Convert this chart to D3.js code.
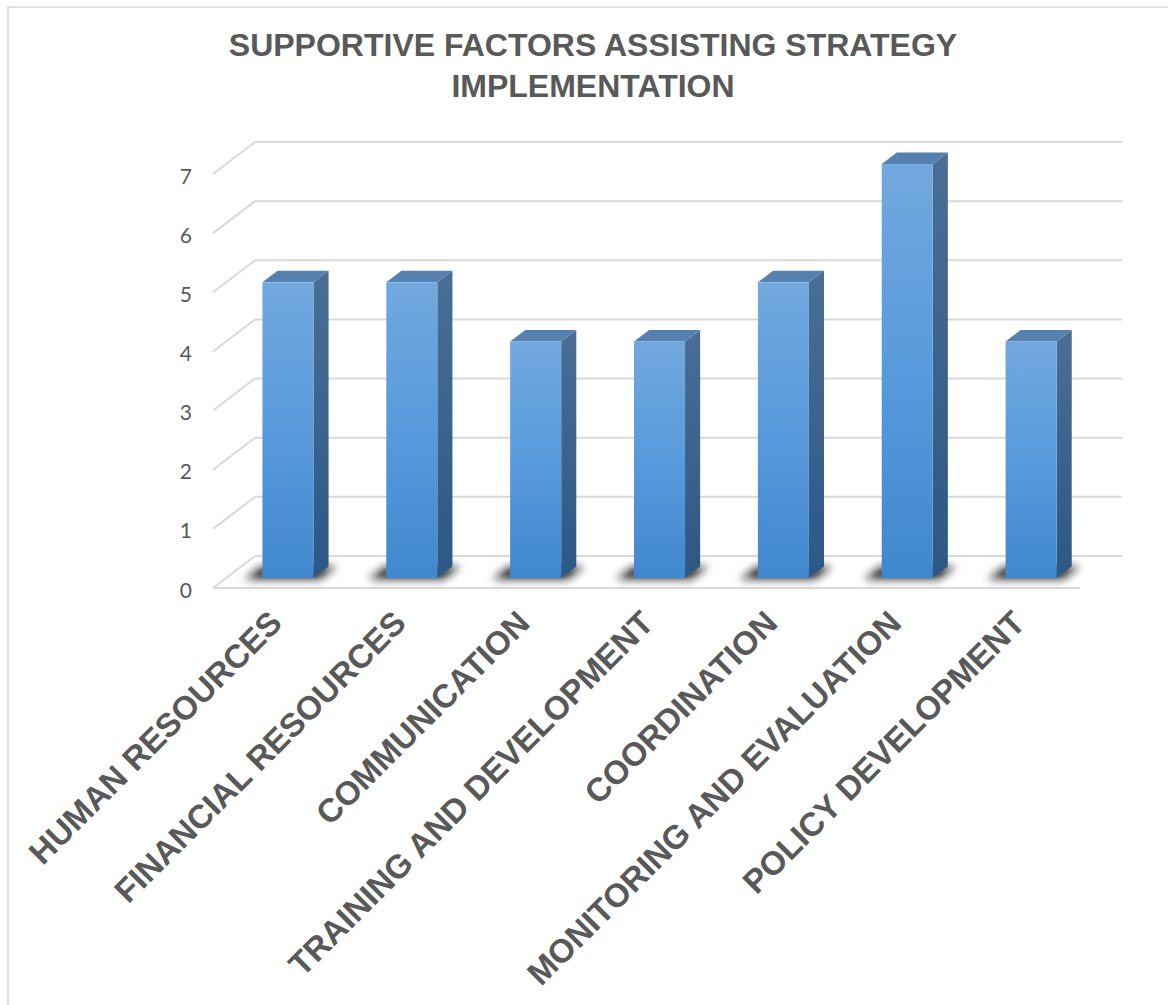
<!DOCTYPE html>
<html>
<head>
<meta charset="utf-8">
<script src="https://cdn.jsdelivr.net/npm/d3@7"></script>
<style>
  html, body { margin: 0; padding: 0; background: #fff; }
  svg { display: block; }
</style>
</head>
<body>
<svg id="chart" width="1168" height="1005"></svg>
<script>
const titleLines = ["SUPPORTIVE FACTORS ASSISTING STRATEGY", "IMPLEMENTATION"];
const categories = ["HUMAN RESOURCES", "FINANCIAL RESOURCES", "COMMUNICATION",
  "TRAINING AND DEVELOPMENT", "COORDINATION", "MONITORING AND EVALUATION", "POLICY DEVELOPMENT"];
const values = [5, 5, 4, 4, 5, 7, 4];
const yTicks = [0, 1, 2, 3, 4, 5, 6, 7];

const svg = d3.select("#chart");
const textColor = "#595959";
const gridColor = "#d9d9d9";

// 3D frame (front floor plane)
const floorLeft = 213, floorRight = 1080, floorFrontY = 588;
const depth = { dx: 42, dy: -32 };           // front -> back wall
const barD0 = 0.31, barD1 = 0.67;             // bar depth fraction range

const x = d3.scaleBand().domain(categories).range([floorLeft, floorRight])
  .paddingInner(0.588).paddingOuter(0.294);
const y = d3.scaleLinear().domain([0, 7]).range([0, 414]); // height in px

// projection: value v at depth fraction f, x coordinate on front plane px
const P = (px, v, f) => [px + depth.dx * f, floorFrontY + depth.dy * f - y(v)];

// border
svg.append("rect").attr("x", 8).attr("y", 7).attr("width", 1300).attr("height", 1100)
  .attr("fill", "none").attr("stroke", "#d9d9d9").attr("stroke-width", 1.5);

// defs
const defs = svg.append("defs");
const gFront = defs.append("linearGradient").attr("id", "gFront").attr("x1", 0).attr("y1", 0).attr("x2", 0).attr("y2", 1);
gFront.append("stop").attr("offset", "0%").attr("stop-color", "#72a8df");
gFront.append("stop").attr("offset", "55%").attr("stop-color", "#5599db");
gFront.append("stop").attr("offset", "100%").attr("stop-color", "#4187cf");
const gSide = defs.append("linearGradient").attr("id", "gSide").attr("x1", 0).attr("y1", 0).attr("x2", 0).attr("y2", 1);
gSide.append("stop").attr("offset", "0%").attr("stop-color", "#4a6e96");
gSide.append("stop").attr("offset", "100%").attr("stop-color", "#2c5884");
const blur = defs.append("filter").attr("id", "blur").attr("x", "-50%").attr("y", "-100%").attr("width", "200%").attr("height", "300%");
blur.append("feGaussianBlur").attr("stdDeviation", 4);

// gridlines (back wall + left wall diagonal)
const grid = svg.append("g");
yTicks.forEach(v => {
  const back0 = P(floorLeft, v, 1), backR = P(floorRight, v, 1), front0 = P(floorLeft, v, 0);
  grid.append("line").attr("x1", back0[0]).attr("y1", back0[1]).attr("x2", backR[0]).attr("y2", backR[1])
    .attr("stroke", gridColor).attr("stroke-width", 2);
  grid.append("line").attr("x1", front0[0]).attr("y1", front0[1]).attr("x2", back0[0]).attr("y2", back0[1])
    .attr("stroke", gridColor).attr("stroke-width", 2);
});
// floor front edge
{
  const a = P(floorLeft, 0, 0), b = P(floorRight, 0, 0);
  grid.append("line").attr("x1", a[0]).attr("y1", a[1]).attr("x2", b[0]).attr("y2", b[1])
    .attr("stroke", gridColor).attr("stroke-width", 2);
}

// y tick labels
svg.append("g").selectAll("text").data(yTicks).join("text")
  .attr("x", 192).attr("y", d => P(floorLeft, d, 0)[1] + 1)
  .attr("text-anchor", "end").attr("dominant-baseline", "central")
  .attr("font-family", "Lato, 'Open Sans', sans-serif").attr("font-size", 21)
  .attr("fill", textColor).text(d => d);

const poly = pts => pts.map(p => p.join(",")).join(" ");

// shadows
const shadows = svg.append("g").attr("filter", "url(#blur)");
categories.forEach((c, i) => {
  const x0 = x(c) - 16, x1 = x(c) + x.bandwidth() + 8;
  shadows.append("polygon")
    .attr("points", poly([P(x0, 0, barD0 - 0.04), P(x1, 0, barD0 - 0.04), P(x1, 0, barD1), P(x0, 0, barD1)]))
    .attr("fill", "#1a1a1a").attr("opacity", 0.9);
});

// bars
const bars = svg.append("g");
categories.forEach((c, i) => {
  const v = values[i];
  const x0 = x(c), x1 = x(c) + x.bandwidth();
  const g = bars.append("g");
  // side face
  g.append("polygon").attr("points", poly([P(x1, 0, barD0), P(x1, v, barD0), P(x1, v, barD1), P(x1, 0, barD1)]))
    .attr("fill", "url(#gSide)");
  // top face
  g.append("polygon").attr("points", poly([P(x0, v, barD0), P(x1, v, barD0), P(x1, v, barD1), P(x0, v, barD1)]))
    .attr("fill", "#5680b0");
  // front face
  const f0 = P(x0, v, barD0), f1 = P(x1, 0, barD0);
  g.append("rect").attr("x", f0[0]).attr("y", f0[1]).attr("width", f1[0] - f0[0]).attr("height", f1[1] - f0[1])
    .attr("fill", "url(#gFront)");
});

// category labels
svg.append("g").selectAll("text").data(categories).join("text")
  .attr("transform", d => `translate(${x(d) + x.bandwidth() / 2 + 9},${625}) rotate(-45)`)
  .attr("text-anchor", "end")
  .attr("font-family", "'Liberation Sans', Arial, sans-serif").attr("font-weight", "bold")
  .attr("font-size", 33).attr("fill", textColor).text(d => d);

// title
svg.append("g").selectAll("text").data(titleLines).join("text")
  .attr("x", 593).attr("y", (d, i) => 56 + i * 41)
  .attr("text-anchor", "middle")
  .attr("font-family", "'Liberation Sans', Arial, sans-serif").attr("font-weight", "bold")
  .attr("font-size", 32).attr("fill", textColor).text(d => d);
</script>
</body>
</html>
